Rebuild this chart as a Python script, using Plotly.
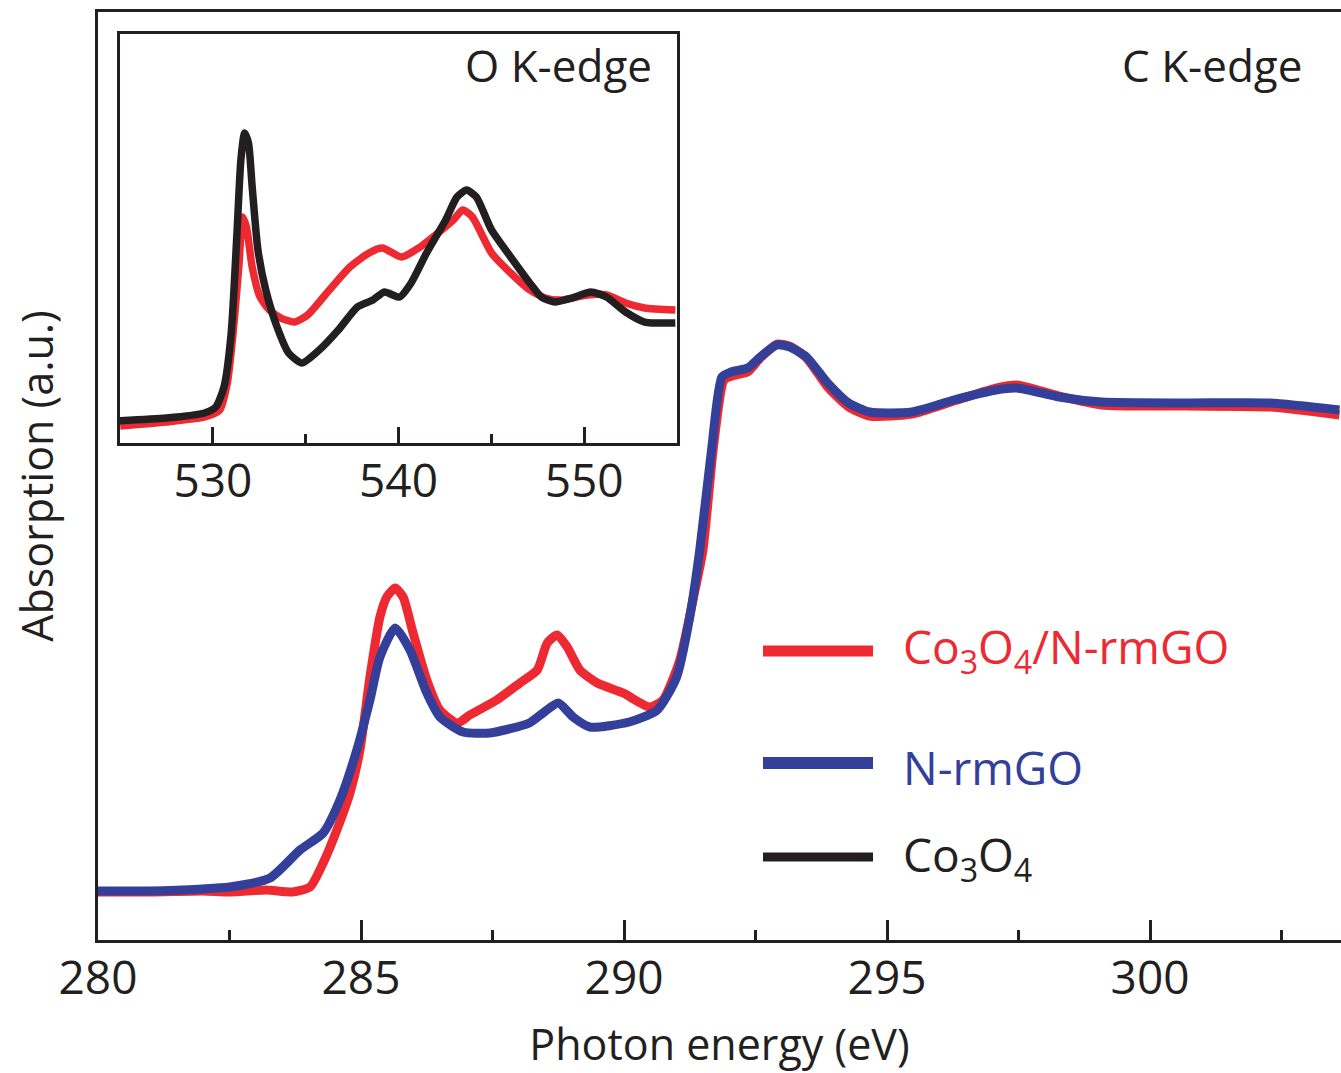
import plotly.graph_objects as go

# ---------------- data: main panel (C K-edge) ----------------
c_energy_blue = [280, 281, 282, 282.5, 283.27, 283.84, 284.28, 284.6, 284.92, 285.17, 285.36,
                 285.65, 285.93, 286.25, 286.5, 286.94, 287.45, 288.2, 288.46, 288.75, 289.03,
                 289.35, 290.1, 290.63, 291.0, 291.25, 291.44, 291.67, 291.86, 292.03, 292.35,
                 292.59, 292.91, 293.15, 293.47, 293.87, 294.27, 294.67, 295.47, 296.27, 297.07,
                 297.47, 298.27, 299.08, 300.68, 302.28, 303.6]
n_rmgo = [5.28, 5.28, 5.50, 5.71, 6.68, 9.70, 11.53, 15.09, 20.47, 25.86, 30.50,
          33.62, 31.25, 26.62, 24.03, 22.41, 22.31, 23.38, 24.46, 25.54, 24.03,
          22.95, 23.49, 24.78, 28.34, 34.81, 42.03, 53.12, 60.67, 61.21, 61.64,
          62.82, 64.12, 63.90, 62.82, 60.02, 57.87, 56.90, 56.90, 58.19, 59.27,
          59.48, 58.51, 57.97, 57.87, 57.87, 57.11]

c_energy_red = [280, 281, 282, 282.5, 283.2, 283.7, 284.03, 284.28, 284.54, 284.79, 284.98,
                285.17, 285.36, 285.49, 285.65, 285.8, 285.99, 286.25, 286.5, 286.83, 287.07,
                287.58, 288.02, 288.35, 288.54, 288.73, 288.92, 289.16, 289.49, 289.98, 290.49,
                290.74, 291.06, 291.31, 291.5, 291.7, 291.9, 292.05, 292.35, 292.59, 292.91,
                293.15, 293.47, 293.87, 294.27, 294.67, 295.47, 296.27, 297.07, 297.47, 298.27,
                299.08, 300.68, 302.28, 303.6]
co3o4_nrmgo_c = [5.17, 5.17, 5.28, 5.17, 5.39, 5.17, 5.71, 8.30, 11.85, 15.84, 20.47,
                 28.34, 34.81, 36.96, 37.93, 36.96, 33.08, 28.02, 24.78, 23.38, 24.25,
                 25.86, 27.69, 29.09, 32.00, 32.87, 31.57, 29.09, 27.69, 26.62, 25.11,
                 25.86, 30.17, 36.64, 42.03, 53.12, 60.34, 60.78, 61.21, 62.72, 64.22,
                 64.00, 62.72, 59.59, 57.44, 56.47, 56.68, 58.08, 59.48, 59.81, 58.62,
                 57.65, 57.54, 57.44, 56.58]

# ---------------- data: inset (O K-edge) ----------------
o_energy_black = [525.0, 527.5, 529.55, 530.16, 530.6, 530.99, 531.30, 531.51, 531.71, 531.92,
                  532.12, 532.43, 532.85, 533.46, 534.08, 534.80, 535.73, 536.76, 537.79, 538.62,
                  539.24, 540.06, 540.68, 541.51, 542.54, 543.15, 543.67, 544.19, 545.01, 546.04,
                  547.07, 547.69, 548.41, 549.34, 550.37, 551.20, 552.23, 553.26, 554.91]
co3o4_o = [5.45, 6.11, 7.33, 8.80, 13.69, 26.89, 51.34, 69.19, 75.79, 73.35,
           62.59, 47.19, 37.41, 28.36, 22.00, 19.56, 22.74, 27.63, 33.25, 34.96,
           36.92, 35.70, 39.12, 46.45, 54.52, 60.15, 61.86, 60.15, 52.08, 45.48,
           39.12, 35.70, 34.47, 35.45, 36.92, 35.70, 32.03, 29.58, 29.34]

o_energy_red = [525.01, 527.48, 529.55, 530.37, 530.78, 531.09, 531.40, 531.61, 531.81, 532.12,
                532.54, 533.05, 533.67, 534.39, 535.11, 536.14, 537.38, 538.41, 539.13, 540.16,
                541.09, 542.12, 542.95, 543.46, 543.98, 545.01, 546.04, 547.07, 547.90, 548.72,
                550.16, 551.20, 552.23, 553.26, 554.91]
co3o4_nrmgo_o = [4.16, 5.13, 6.36, 8.07, 14.67, 26.89, 43.03, 55.26, 52.81, 43.03,
                 35.70, 32.52, 30.56, 29.58, 31.30, 36.67, 43.03, 46.45, 47.68, 45.48,
                 47.68, 51.34, 54.52, 56.97, 55.26, 46.45, 41.56, 37.41, 35.45, 34.96,
                 36.19, 36.19, 34.23, 33.01, 32.52]

main_ticks = [280, 285, 290, 295, 300]
inset_ticks = [530, 540, 550]

legend_labels = ["Co<sub>3</sub>O<sub>4</sub>/N-rmGO", "N-rmGO", "Co<sub>3</sub>O<sub>4</sub>"]

RED = "#ED2A32"
BLUE = "#333F99"
BLACK = "#231F20"
TXT = "#231F20"
FONT = "Open Sans"

fig = go.Figure()
fig.add_trace(go.Scatter(x=c_energy_red, y=co3o4_nrmgo_c, mode="lines",
                         line=dict(color=RED, width=9, shape="spline", smoothing=0.6),
                         xaxis="x", yaxis="y", showlegend=False))
fig.add_trace(go.Scatter(x=c_energy_blue, y=n_rmgo, mode="lines",
                         line=dict(color=BLUE, width=9, shape="spline", smoothing=0.6),
                         xaxis="x", yaxis="y", showlegend=False))
fig.add_trace(go.Scatter(x=o_energy_red, y=co3o4_nrmgo_o, mode="lines",
                         line=dict(color=RED, width=7.5, shape="spline", smoothing=0.6),
                         xaxis="x2", yaxis="y2", showlegend=False))
fig.add_trace(go.Scatter(x=o_energy_black, y=co3o4_o, mode="lines",
                         line=dict(color=BLACK, width=7.5, shape="spline", smoothing=0.6),
                         xaxis="x2", yaxis="y2", showlegend=False))

W, H = 1341, 1073
L, R, T, B = 98, 0, 12, 133
PW, PH = W - L - R, H - T - B


def px(xp):
    return (xp - L) / PW


def py(yp):
    return (H - B - yp) / PH


fig.update_layout(
    width=W, height=H,
    margin=dict(l=L, r=R, t=T, b=B, pad=0, autoexpand=False),
    paper_bgcolor="white", plot_bgcolor="white",
    font=dict(family=FONT, color=TXT, size=45),
    xaxis=dict(domain=[0, 1], range=[280, 303.63], showline=True, linecolor=BLACK, linewidth=3,
               mirror=True, ticks="inside", ticklen=20, tickwidth=2.5, tickcolor=BLACK,
               tickvals=main_ticks, ticktext=[str(t) for t in main_ticks],
               minor=dict(dtick=2.5, tick0=280, ticks="inside", ticklen=10, tickwidth=2.5,
                          tickcolor=BLACK, showgrid=False),
               showgrid=False, zeroline=False, automargin=False,
               tickfont=dict(size=46, family=FONT, color=TXT), ticklabelstandoff=-4,
               title=dict(text="Photon energy (eV)", font=dict(size=43, family=FONT, color=TXT),
                          standoff=28)),
    yaxis=dict(domain=[0, 1], range=[0, 100], showline=True, linecolor=BLACK, linewidth=3,
               showticklabels=False, ticks="", showgrid=False, zeroline=False, automargin=False,
               title=dict(text="Absorption (a.u.)", font=dict(size=43, family=FONT, color=TXT),
                          standoff=28)),
    xaxis2=dict(domain=[px(120), px(677)], anchor="y2", range=[525, 555], showline=True,
                linecolor=BLACK, linewidth=3, mirror=True, ticks="inside", ticklen=16,
                tickwidth=2.5, tickcolor=BLACK, tickvals=inset_ticks,
                ticktext=[str(t) for t in inset_ticks],
                minor=dict(dtick=5, tick0=525, ticks="inside", ticklen=9, tickwidth=2.5,
                           tickcolor=BLACK, showgrid=False),
                showgrid=False, zeroline=False, automargin=False,
                tickfont=dict(size=46, family=FONT, color=TXT), ticklabelstandoff=-4),
    yaxis2=dict(domain=[py(443), py(34)], anchor="x2", range=[0, 100], showline=True,
                linecolor=BLACK, linewidth=3, mirror=True, showticklabels=False, ticks="",
                showgrid=False, zeroline=False, automargin=False),
    showlegend=False,
)

# legend (drawn manually to match the long, thick sample lines)
legend_rows = [(651, 763, 873, RED, 11), (763, 763, 873, BLUE, 12), (857, 763, 873, BLACK, 9)]
legend_text_y = [649, 767, 857]
legend_text_colors = [RED, BLUE, TXT]
for (yy, x0, x1, col, wd), label, ty, tc in zip(legend_rows, legend_labels, legend_text_y,
                                                 legend_text_colors):
    fig.add_shape(type="line", xref="paper", yref="paper", x0=px(x0), x1=px(x1),
                  y0=py(yy), y1=py(yy), line=dict(color=col, width=wd))
    fig.add_annotation(text=label, xref="paper", yref="paper", x=px(901), y=py(ty),
                       xanchor="left", yanchor="middle", showarrow=False,
                       font=dict(size=46, family=FONT, color=tc))

fig.add_annotation(text="C K-edge", xref="paper", yref="paper", x=px(1304), y=py(65),
                   xanchor="right", yanchor="middle", showarrow=False,
                   font=dict(size=44, family=FONT, color=TXT))
fig.add_annotation(text="O K-edge", xref="paper", yref="paper", x=px(654), y=py(65),
                   xanchor="right", yanchor="middle", showarrow=False,
                   font=dict(size=44, family=FONT, color=TXT))

fig.write_html("out.html", config={"displayModeBar": False},
               post_script="document.body.style.margin='0';"
                           "document.body.style.overflow='hidden';")
